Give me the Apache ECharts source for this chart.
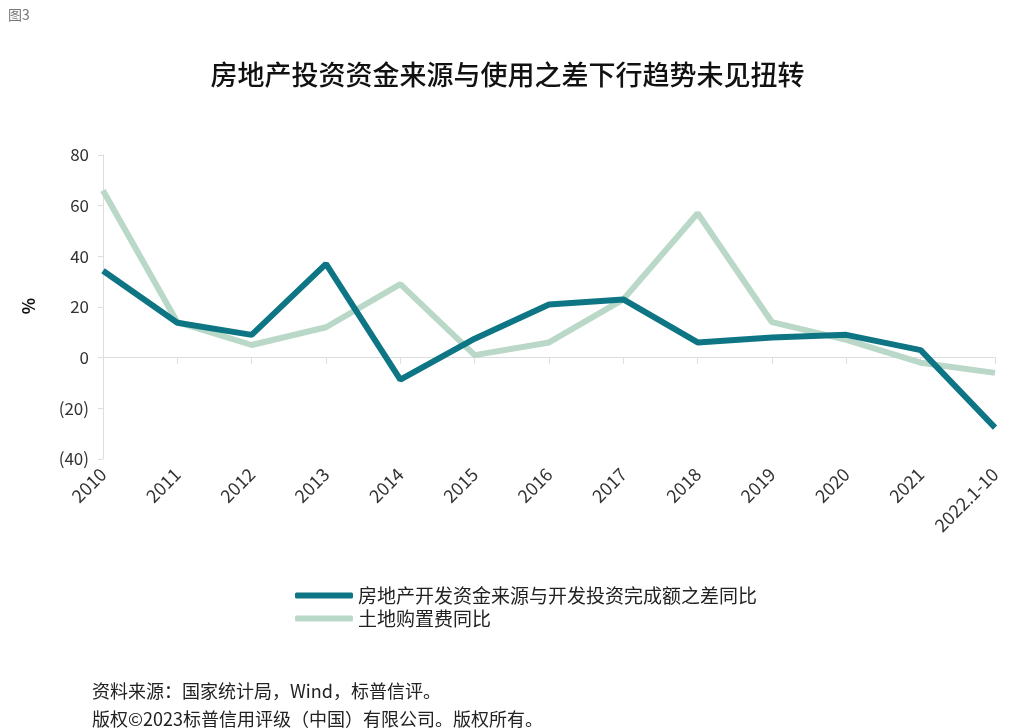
<!DOCTYPE html><html><head><meta charset="utf-8"><script src="https://cdn.jsdelivr.net/npm/echarts@6/dist/echarts.min.js"></script></head><body style="margin:0;background:#fff"><div id="c" style="width:1015px;height:728px"></div><script>
const categories=['2010','2011','2012','2013','2014','2015','2016','2017','2018','2019','2020','2021','2022.1-10'];
const diffValues=[34.3,13.8,9,37,-8.7,7.5,21,23,6,8,9,3,-27.6];
const landValues=[66,14,5,12,29,1,6,23,57,14,7,-2,-6];
const F='"Noto Sans CJK SC","Noto Sans",sans-serif';
const c=echarts.init(document.getElementById('c'));
c.setOption({
 animation:false,
 title:[{text:'图3',left:3,top:3,textStyle:{fontSize:14,color:'#777',fontWeight:'normal',fontFamily:F}},
  {text:'房地产投资资金来源与使用之差下行趋势未见扭转',left:'center',top:56,textStyle:{fontSize:27,color:'#111',fontWeight:500,fontFamily:F}}],
 graphic:[{type:'text',left:92,top:677,style:{text:'资料来源：国家统计局，Wind，标普信评。\n版权©2023标普信用评级（中国）有限公司。版权所有。',font:'18px '+F,fill:'#222',lineHeight:28}},
  {type:'text',left:20,top:298,rotation:Math.PI/2,style:{text:'%',font:'bold 17px '+F,fill:'#111'}}],
 legend:{orient:'vertical',left:290,top:581,itemWidth:58,itemGap:4,textStyle:{fontSize:19,color:'#222',fontFamily:F},
  data:[{name:'房地产开发资金来源与开发投资完成额之差同比',icon:'roundRect'},{name:'土地购置费同比',icon:'roundRect'}],itemHeight:6},
 grid:{left:103,right:20,top:155,bottom:269},
 xAxis:[{type:'category',data:categories,boundaryGap:false,axisLine:{onZero:true,lineStyle:{color:'#ddd'}},axisTick:{lineStyle:{color:'#ddd'},length:6},axisLabel:{show:false}},
  {type:'category',data:categories,boundaryGap:false,position:'bottom',axisLine:{show:false},axisTick:{show:false},
   axisLabel:{rotate:45,fontSize:18,color:'#333',margin:12,fontFamily:F}}],
 yAxis:{type:'value',min:-40,max:80,interval:20,axisLine:{show:true,lineStyle:{color:'#ddd'}},axisTick:{show:true,lineStyle:{color:'#ddd'}},splitLine:{show:false},
  axisLabel:{fontSize:17,color:'#333',margin:14,fontFamily:F,formatter:v=>v<0?'('+(-v)+')':v}},
 series:[{name:'房地产开发资金来源与开发投资完成额之差同比',type:'line',data:diffValues,symbol:'none',lineStyle:{width:6,color:'#0e7585'},itemStyle:{color:'#0e7585'}},
  {name:'土地购置费同比',type:'line',data:landValues,symbol:'none',z:1,lineStyle:{width:6,color:'#b9d8c7'},itemStyle:{color:'#b9d8c7'}}]
});
</script></body></html>
